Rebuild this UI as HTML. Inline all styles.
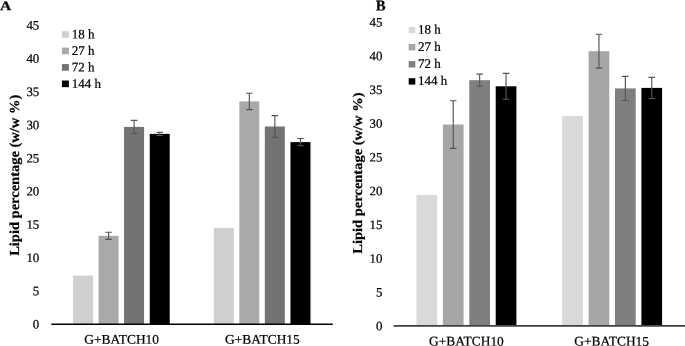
<!DOCTYPE html>
<html><head><meta charset="utf-8"><title>Lipid percentage</title>
<style>
html,body{margin:0;padding:0;background:#fff;}
body{width:685px;height:346px;overflow:hidden;}
svg{display:block;text-rendering:geometricPrecision;}
text{stroke:#000;stroke-width:0.22px;}
.t{font-family:"Liberation Serif",serif;font-size:12.9px;fill:#000;}
.l{font-family:"Liberation Serif",serif;font-size:13.2px;fill:#000;}
.c{font-family:"Liberation Serif",serif;font-size:13.3px;fill:#000;}
.yt{font-family:"Liberation Serif",serif;font-weight:bold;fill:#000;}
.pl{font-family:"Liberation Serif",serif;font-weight:bold;fill:#000;}
</style></head><body>
<svg width="685" height="346" viewBox="0 0 685 346">
<rect width="685" height="346" fill="#fff"/>
<g>
<rect x="73.08" y="275.60" width="20.00" height="48.70" fill="#d0d0d0"/>
<rect x="98.58" y="235.80" width="20.00" height="88.50" fill="#a9a9a9"/>
<path d="M108.58 232.25V239.35M105.28 232.25H111.88M105.28 239.35H111.88" stroke="#555" stroke-width="1.15" fill="none"/>
<rect x="124.08" y="126.90" width="20.00" height="197.40" fill="#737373"/>
<path d="M134.07 120.35V133.45M130.77 120.35H137.38M130.77 133.45H137.38" stroke="#555" stroke-width="1.15" fill="none"/>
<rect x="149.73" y="133.90" width="20.00" height="190.40" fill="#000000"/>
<path d="M159.73 132.35V135.45M156.43 132.35H163.03M156.43 135.45H163.03" stroke="#555" stroke-width="1.15" fill="none"/>
<rect x="213.83" y="227.90" width="20.00" height="96.40" fill="#d0d0d0"/>
<rect x="239.33" y="101.40" width="20.00" height="222.90" fill="#a9a9a9"/>
<path d="M249.33 93.23V109.57M246.03 93.23H252.63M246.03 109.57H252.63" stroke="#555" stroke-width="1.15" fill="none"/>
<rect x="264.82" y="126.50" width="20.00" height="197.80" fill="#737373"/>
<path d="M274.82 115.60V137.40M271.52 115.60H278.12M271.52 137.40H278.12" stroke="#555" stroke-width="1.15" fill="none"/>
<rect x="290.48" y="142.10" width="20.00" height="182.20" fill="#000000"/>
<path d="M300.48 138.45V145.75M297.18 138.45H303.78M297.18 145.75H303.78" stroke="#555" stroke-width="1.15" fill="none"/>
<path d="M51.30 324.30H332.80" stroke="#000" stroke-width="1.6" fill="none"/>
<text transform="translate(39.30 328.40) rotate(0.06) scale(1.0 1)" text-anchor="end" class="t">0</text>
<text transform="translate(39.30 295.20) rotate(0.06) scale(1.0 1)" text-anchor="end" class="t">5</text>
<text transform="translate(39.30 262.00) rotate(0.06) scale(1.0 1)" text-anchor="end" class="t">10</text>
<text transform="translate(39.30 228.80) rotate(0.06) scale(1.0 1)" text-anchor="end" class="t">15</text>
<text transform="translate(39.30 195.60) rotate(0.06) scale(1.0 1)" text-anchor="end" class="t">20</text>
<text transform="translate(39.30 162.40) rotate(0.06) scale(1.0 1)" text-anchor="end" class="t">25</text>
<text transform="translate(39.30 129.20) rotate(0.06) scale(1.0 1)" text-anchor="end" class="t">30</text>
<text transform="translate(39.30 96.00) rotate(0.06) scale(1.0 1)" text-anchor="end" class="t">35</text>
<text transform="translate(39.30 62.80) rotate(0.06) scale(1.0 1)" text-anchor="end" class="t">40</text>
<text transform="translate(39.30 29.60) rotate(0.06) scale(1.0 1)" text-anchor="end" class="t">45</text>
<text transform="translate(121.67 343.80) rotate(0.06) scale(1.01 1)" text-anchor="middle" class="c">G+BATCH10</text>
<text transform="translate(262.43 343.80) rotate(0.06) scale(1.01 1)" text-anchor="middle" class="c">G+BATCH15</text>
<rect x="61.90" y="31.16" width="7.0" height="6.65" fill="#d0d0d0"/>
<text transform="translate(71.80 38.59) rotate(0.06) scale(0.985 1)" text-anchor="start" class="l">18 h</text>
<rect x="61.90" y="47.61" width="7.0" height="6.65" fill="#a9a9a9"/>
<text transform="translate(71.80 55.04) rotate(0.06) scale(0.985 1)" text-anchor="start" class="l">27 h</text>
<rect x="61.90" y="64.06" width="7.0" height="6.65" fill="#737373"/>
<text transform="translate(71.80 71.48) rotate(0.06) scale(0.985 1)" text-anchor="start" class="l">72 h</text>
<rect x="61.90" y="80.51" width="7.0" height="6.65" fill="#000000"/>
<text transform="translate(71.80 87.93) rotate(0.06) scale(0.985 1)" text-anchor="start" class="l">144 h</text>
<text transform="translate(19.00 175.30) rotate(-89.94) scale(1.05 1)" text-anchor="middle" class="yt" font-size="13.8">Lipid percentage (w/w %)</text>
<text transform="translate(0.00 10.30) rotate(0.06) scale(1.18 1)" text-anchor="start" class="pl" font-size="13.3">A</text>
<rect x="416.50" y="195.00" width="20.70" height="130.95" fill="#d9d9d9"/>
<rect x="442.90" y="124.50" width="20.70" height="201.45" fill="#a6a6a6"/>
<path d="M453.25 100.70V148.30M449.95 100.70H456.55M449.95 148.30H456.55" stroke="#555" stroke-width="1.15" fill="none"/>
<rect x="469.30" y="80.20" width="20.70" height="245.75" fill="#7f7f7f"/>
<path d="M479.65 74.15V86.25M476.35 74.15H482.95M476.35 86.25H482.95" stroke="#555" stroke-width="1.15" fill="none"/>
<rect x="495.70" y="86.30" width="20.70" height="239.65" fill="#000000"/>
<path d="M506.05 73.35V99.25M502.75 73.35H509.35M502.75 99.25H509.35" stroke="#555" stroke-width="1.15" fill="none"/>
<rect x="562.20" y="116.10" width="20.70" height="209.85" fill="#d9d9d9"/>
<rect x="588.60" y="51.20" width="20.70" height="274.75" fill="#a6a6a6"/>
<path d="M598.95 34.25V68.15M595.65 34.25H602.25M595.65 68.15H602.25" stroke="#555" stroke-width="1.15" fill="none"/>
<rect x="615.00" y="88.40" width="20.70" height="237.55" fill="#7f7f7f"/>
<path d="M625.35 76.30V100.50M622.05 76.30H628.65M622.05 100.50H628.65" stroke="#555" stroke-width="1.15" fill="none"/>
<rect x="641.40" y="87.90" width="20.70" height="238.05" fill="#000000"/>
<path d="M651.75 77.35V98.45M648.45 77.35H655.05M648.45 98.45H655.05" stroke="#555" stroke-width="1.15" fill="none"/>
<path d="M393.60 325.95H685.00" stroke="#404040" stroke-width="1.8" fill="none"/>
<text transform="translate(382.50 330.15) rotate(0.06) scale(1.0 1)" text-anchor="end" class="t">0</text>
<text transform="translate(382.50 296.40) rotate(0.06) scale(1.0 1)" text-anchor="end" class="t">5</text>
<text transform="translate(382.50 262.65) rotate(0.06) scale(1.0 1)" text-anchor="end" class="t">10</text>
<text transform="translate(382.50 228.90) rotate(0.06) scale(1.0 1)" text-anchor="end" class="t">15</text>
<text transform="translate(382.50 195.15) rotate(0.06) scale(1.0 1)" text-anchor="end" class="t">20</text>
<text transform="translate(382.50 161.40) rotate(0.06) scale(1.0 1)" text-anchor="end" class="t">25</text>
<text transform="translate(382.50 127.65) rotate(0.06) scale(1.0 1)" text-anchor="end" class="t">30</text>
<text transform="translate(382.50 93.90) rotate(0.06) scale(1.0 1)" text-anchor="end" class="t">35</text>
<text transform="translate(382.50 60.15) rotate(0.06) scale(1.0 1)" text-anchor="end" class="t">40</text>
<text transform="translate(382.50 26.40) rotate(0.06) scale(1.0 1)" text-anchor="end" class="t">45</text>
<text transform="translate(466.45 345.60) rotate(0.06) scale(1.01 1)" text-anchor="middle" class="c">G+BATCH10</text>
<text transform="translate(611.65 345.60) rotate(0.06) scale(1.01 1)" text-anchor="middle" class="c">G+BATCH15</text>
<rect x="408.70" y="26.90" width="6.6" height="6.4" fill="#d9d9d9"/>
<text transform="translate(418.10 33.80) rotate(0.06) scale(0.985 1)" text-anchor="start" class="l">18 h</text>
<rect x="408.70" y="44.00" width="6.6" height="6.4" fill="#a6a6a6"/>
<text transform="translate(418.10 50.90) rotate(0.06) scale(0.985 1)" text-anchor="start" class="l">27 h</text>
<rect x="408.70" y="61.10" width="6.6" height="6.4" fill="#7f7f7f"/>
<text transform="translate(418.10 68.00) rotate(0.06) scale(0.985 1)" text-anchor="start" class="l">72 h</text>
<rect x="408.70" y="78.20" width="6.6" height="6.4" fill="#000000"/>
<text transform="translate(418.10 85.10) rotate(0.06) scale(0.985 1)" text-anchor="start" class="l">144 h</text>
<text transform="translate(362.00 173.10) rotate(-89.94) scale(1.082 1)" text-anchor="middle" class="yt" font-size="13.4">Lipid percentage (w/w %)</text>
<text transform="translate(375.80 10.60) rotate(0.06) scale(0.97 1)" text-anchor="start" class="pl" font-size="15.2">B</text>
</g>
</svg>
</body></html>
